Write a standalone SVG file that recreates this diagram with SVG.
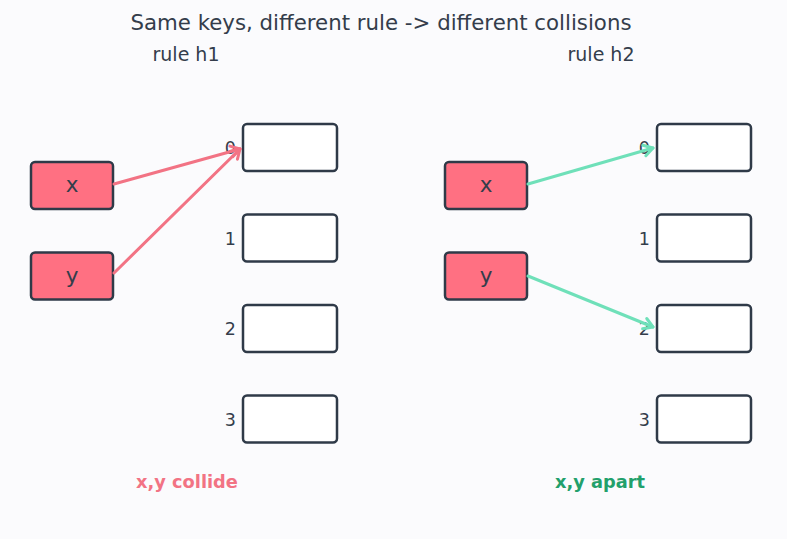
<svg xmlns="http://www.w3.org/2000/svg" width="787" height="539" viewBox="0 0 787 539">
<style>
text{font-family:"DejaVu Sans","Liberation Sans",sans-serif;fill:#343d4b}
.key rect{fill:#ff7082;stroke:#2f3a48;stroke-width:2.5}
.slot rect{fill:#ffffff;stroke:#2f3a48;stroke-width:2.5}
.key text{font-size:21.5px;text-anchor:middle}
.slot text{font-size:17.5px;text-anchor:end}
.ar{fill:none;stroke-width:3;stroke-linecap:round}
.red{stroke:#f27384}
.grn{stroke:#6fe0b9}
</style>
<defs>
<marker id="mr" markerUnits="userSpaceOnUse" markerWidth="16" markerHeight="16" refX="12" refY="7" orient="auto" viewBox="0 0 16 14">
<path d="M3,1.5 L12,7 L3,12.5" fill="none" stroke="#f27384" stroke-width="3" stroke-linecap="round" stroke-linejoin="round"/>
</marker>
<marker id="mg" markerUnits="userSpaceOnUse" markerWidth="16" markerHeight="16" refX="12" refY="7" orient="auto" viewBox="0 0 16 14">
<path d="M3,1.5 L12,7 L3,12.5" fill="none" stroke="#6fe0b9" stroke-width="3" stroke-linecap="round" stroke-linejoin="round"/>
</marker>
</defs>
<rect width="787" height="539" fill="#fbfbfd"/>
<text x="381" y="30" font-size="21.3" text-anchor="middle">Same keys, different rule -&gt; different collisions</text>
<text x="186" y="61" font-size="19" text-anchor="middle">rule h1</text>
<text x="601" y="61" font-size="19" text-anchor="middle">rule h2</text>

<g id="slot-h1-0" class="slot"><rect x="243" y="124" width="94" height="47" rx="4"/><text x="236" y="154">0</text></g>
<g id="slot-h1-1" class="slot"><rect x="243" y="214.5" width="94" height="47" rx="4"/><text x="236" y="244.5">1</text></g>
<g id="slot-h1-2" class="slot"><rect x="243" y="305" width="94" height="47" rx="4"/><text x="236" y="335">2</text></g>
<g id="slot-h1-3" class="slot"><rect x="243" y="395.5" width="94" height="47" rx="4"/><text x="236" y="425.5">3</text></g>

<g id="slot-h2-0" class="slot"><rect x="657" y="124" width="94" height="47" rx="4"/><text x="650" y="154">0</text></g>
<g id="slot-h2-1" class="slot"><rect x="657" y="214.5" width="94" height="47" rx="4"/><text x="650" y="244.5">1</text></g>
<g id="slot-h2-2" class="slot"><rect x="657" y="305" width="94" height="47" rx="4"/><text x="650" y="335">2</text></g>
<g id="slot-h2-3" class="slot"><rect x="657" y="395.5" width="94" height="47" rx="4"/><text x="650" y="425.5">3</text></g>

<g id="key-h1-x" class="key"><rect x="31" y="162" width="82" height="47" rx="4"/><text x="72" y="192">x</text></g>
<g id="key-h1-y" class="key"><rect x="31" y="252.5" width="82" height="47" rx="4"/><text x="72" y="282.5">y</text></g>
<g id="key-h2-x" class="key"><rect x="445" y="162" width="82" height="47" rx="4"/><text x="486" y="192">x</text></g>
<g id="key-h2-y" class="key"><rect x="445" y="252.5" width="82" height="47" rx="4"/><text x="486" y="282.5">y</text></g>

<g id="connectors">
<line class="ar red" x1="114" y1="184" x2="240" y2="149" marker-end="url(#mr)"/>
<line class="ar red" x1="114" y1="273" x2="240" y2="149" marker-end="url(#mr)"/>
<line class="ar grn" x1="528" y1="184" x2="653" y2="148" marker-end="url(#mg)"/>
<line class="ar grn" x1="528" y1="276" x2="653" y2="327" marker-end="url(#mg)"/>
</g>

<text x="187" y="488" font-size="17.8" font-weight="bold" text-anchor="middle" style="fill:#f27384">x,y collide</text>
<text x="600" y="488" font-size="17.8" font-weight="bold" text-anchor="middle" style="fill:#22a06b">x,y apart</text>
</svg>
